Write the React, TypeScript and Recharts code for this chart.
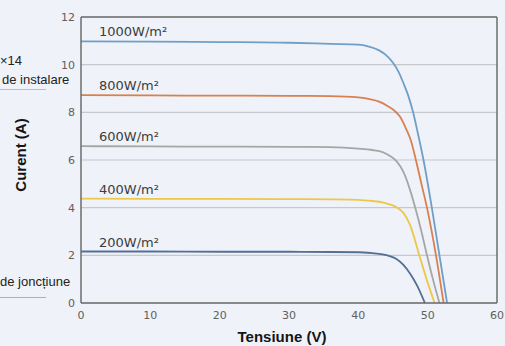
import { LineChart, Line, XAxis, YAxis, CartesianGrid, ReferenceLine } from "recharts";

const xTicks = [0, 10, 20, 30, 40, 50, 60];
const yTicks = [0, 2, 4, 6, 8, 10, 12];

const seriesNames = ["1000W/m²", "800W/m²", "600W/m²", "400W/m²", "200W/m²"];
const seriesColors = ["#6f9fc8", "#d8804f", "#a6a6a6", "#ecc84a", "#526f94"];

const v1000 = [0, 10, 20, 30, 36, 40, 41.5, 43, 44, 45, 45.8, 46.5, 47.2, 47.9, 48.6, 49.4, 50.6, 51.7, 52.8];
const i1000 = [10.98, 10.97, 10.95, 10.92, 10.87, 10.84, 10.76, 10.6, 10.4, 10.08, 9.7, 9.23, 8.7, 8.0, 7.1, 6.0, 4.0, 2.0, 0];

const v800 = [0, 10, 20, 30, 36, 40, 41.5, 43, 44.2, 45.2, 46, 46.9, 47.6, 48.3, 49.1, 49.9, 51.2, 52.3];
const i800 = [8.72, 8.71, 8.7, 8.69, 8.68, 8.63, 8.56, 8.45, 8.27, 8.07, 7.82, 7.3, 6.8, 6.0, 5.0, 4.0, 2.0, 0];

const v600 = [0, 10, 20, 30, 36, 40, 42, 43.5, 44.5, 45.5, 46.5, 47.4, 48.3, 49.1, 49.9, 50.8, 51.7];
const i600 = [6.58, 6.57, 6.56, 6.55, 6.54, 6.48, 6.42, 6.33, 6.18, 5.95, 5.5, 4.8, 3.9, 3.0, 2.0, 0.95, 0];

const v400 = [0, 10, 20, 30, 36, 40, 42, 43.5, 44.5, 45.5, 46.5, 47.5, 48.8, 49.9, 51.0];
const i400 = [4.38, 4.37, 4.37, 4.36, 4.35, 4.33, 4.28, 4.22, 4.14, 4.02, 3.78, 3.25, 2.0, 0.95, 0];

const v200 = [0, 10, 20, 30, 36, 40, 42, 43.5, 44.5, 45.5, 46.5, 47.5, 48.5, 49.6];
const i200 = [2.16, 2.16, 2.15, 2.15, 2.14, 2.13, 2.09, 2.04, 1.97, 1.85, 1.6, 1.22, 0.72, 0];

const curves = [
  [v1000, i1000],
  [v800, i800],
  [v600, i600],
  [v400, i400],
  [v200, i200],
].map(([v, i]) => v.map((x, k) => ({ v: x, i: i[k] })));

const tickStyle = { fill: "#606060", fontSize: 11, fontFamily: "DejaVu Sans" };

function CurveLabel(name: string) {
  return (props: any) => {
    if (props.index !== 0) return null;
    return (
      <text
        key={name}
        x={props.x + 18}
        y={props.y - 5}
        fill="#3c3c3c"
        fontSize={13}
        fontFamily="DejaVu Sans"
      >
        {name}
      </text>
    );
  };
}

export default function App() {
  return (
    <div
      style={{
        position: "absolute",
        left: 0,
        top: 0,
        width: 505,
        height: 346,
        background: "#eff2f8",
        overflow: "hidden",
        fontFamily: "Liberation Sans",
      }}
    >
      <div style={{ position: "absolute", left: 0, top: 53, fontSize: 13, color: "#222" }}>×14</div>
      <div style={{ position: "absolute", left: 2, top: 72, fontSize: 13, color: "#222" }}>de instalare</div>
      <div style={{ position: "absolute", left: 0, top: 89, width: 46, height: 1, background: "#e6aab6" }} />
      <div style={{ position: "absolute", left: 0, top: 274, fontSize: 13, color: "#222" }}>de joncțiune</div>
      <div style={{ position: "absolute", left: 0, top: 297, width: 46, height: 1, background: "#dc9aa8" }} />

      <LineChart
        width={505}
        height={346}
        margin={{ top: 17, right: 8, bottom: 0, left: 0 }}
        style={{ position: "absolute", left: 0, top: 0 }}
      >
        <CartesianGrid vertical={false} stroke="#c6c8cc" strokeWidth={1.2} />
        <XAxis
          dataKey="v"
          type="number"
          domain={[0, 60]}
          ticks={xTicks}
          height={43}
          tick={tickStyle}
          tickLine={false}
          tickSize={0}
          tickMargin={8}
          axisLine={{ stroke: "#6d6d6d", strokeWidth: 1.5 }}
          allowDuplicatedCategory={false}
          label={{
            value: "Tensiune (V)",
            position: "insideBottom",
            offset: 4,
            dx: -7,
            style: { fontSize: 15, fontWeight: "bold", fill: "#151515", fontFamily: "Liberation Sans" },
          }}
        />
        <YAxis
          dataKey="i"
          type="number"
          domain={[0, 12]}
          ticks={yTicks}
          width={81}
          tick={tickStyle}
          tickLine={false}
          tickSize={0}
          tickMargin={6}
          axisLine={{ stroke: "#6d6d6d", strokeWidth: 1.5 }}
          label={{
            content: () => (
              <text
                x={20}
                y={155}
                transform="rotate(-90 20 155)"
                textAnchor="middle"
                dominantBaseline="central"
                fontSize={15}
                fontWeight="bold"
                fill="#151515"
                fontFamily="Liberation Sans"
              >
                Curent (A)
              </text>
            ),
          }}
        />
        <ReferenceLine y={12} stroke="#6d6d6d" strokeWidth={1.5} />
        <ReferenceLine x={60} stroke="#6d6d6d" strokeWidth={1.5} />
        {curves.map((d, k) => (
          <Line
            key={seriesNames[k]}
            data={d}
            dataKey="i"
            type="monotone"
            stroke={seriesColors[k]}
            strokeWidth={1.8}
            dot={false}
            isAnimationActive={false}
            label={CurveLabel(seriesNames[k])}
          />
        ))}
      </LineChart>
    </div>
  );
}
